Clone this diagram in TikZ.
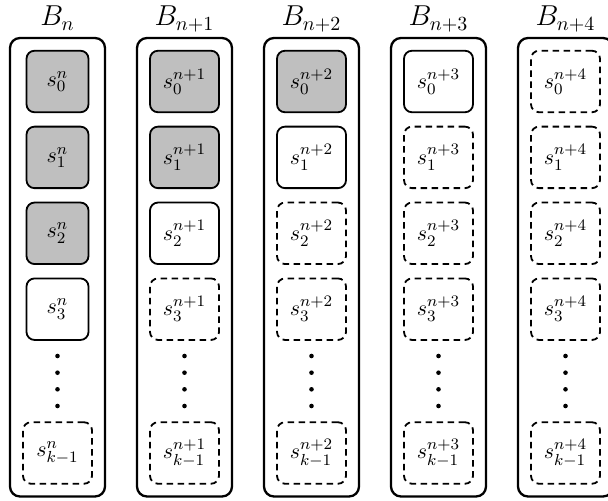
\documentclass[tikz,border=0pt]{standalone}
\begin{document}
\begin{tikzpicture}[x=0.5pt,y=-0.5pt,
  title/.style={inner sep=0pt, font=\Large},
  outerbox/.style={draw, line width=1.15pt, rounded corners=5pt, minimum width=47.5pt, minimum height=229.25pt, inner sep=0pt},
  state/.style={draw, line width=0.9pt, rounded corners=4pt, minimum width=34.5pt, minimum height=30.75pt, inner sep=0pt, font=\fontsize{11}{13}\selectfont},
  filled/.style={state, fill=black!25},
  open/.style={state},
  future/.style={state, dash pattern=on 3.25pt off 2.25pt},
  filledn/.style={filled, minimum width=31pt},
  openn/.style={open, minimum width=31pt},
  dotnode/.style={circle, fill=black, inner sep=0pt, minimum size=2.3pt}]
\useasboundingbox (0,0) rectangle (608,501);
\foreach \lab/\sa/\sb/\sc/\sd [count=\c from 0] in
  {n/filledn/filledn/filledn/openn,
   n+1/filled/filled/open/future,
   n+2/filled/open/future/future,
   n+3/open/future/future/future,
   n+4/future/future/future/future} {
  \pgfmathsetmacro\cx{57.5+127*\c}
  \node[title, anchor=base] (t\c) at (\cx,26) {$B_{\lab}$};
  \node[outerbox] (o\c) at (\cx,267.25) {};
  \node[\sa] (s\c-0) at (\cx,81.5) {$s_0^{\lab}$};
  \node[\sb] (s\c-1) at (\cx,157.4) {$s_1^{\lab}$};
  \node[\sc] (s\c-2) at (\cx,233.3) {$s_2^{\lab}$};
  \node[\sd] (s\c-3) at (\cx,309.2) {$s_3^{\lab}$};
  \node[future] (s\c-k) at (\cx,453) {$s_{k-1}^{\lab}$};
  \foreach \k/\yy in {0/356,1/372.7,2/389.3,3/406}
    \node[dotnode] (d\c-\k) at (\cx,\yy) {};
}
\end{tikzpicture}
\end{document}
